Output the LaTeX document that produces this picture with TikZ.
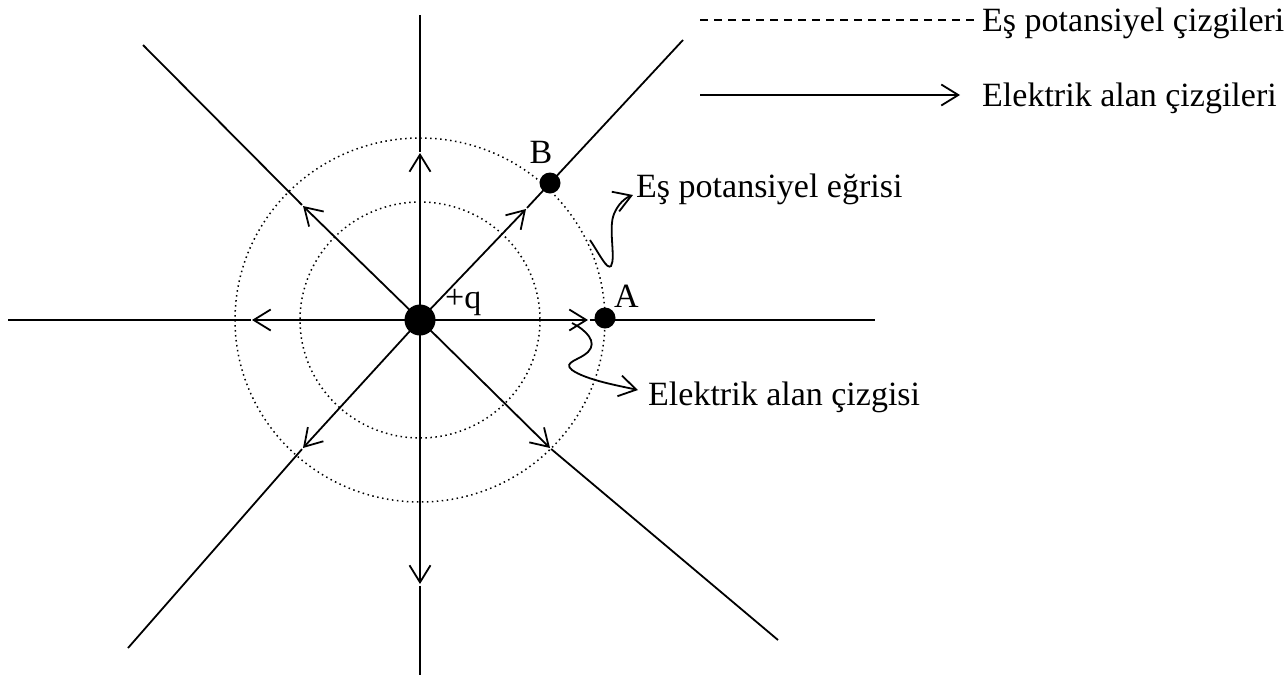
\documentclass[tikz,border=0pt]{standalone}
\usepackage{fontspec}
\setmainfont{Liberation Serif}
\usetikzlibrary{arrows.meta}
\begin{document}
\begin{tikzpicture}[x=1pt,y=-1pt,
  lbl/.style={font=\fontsize{34}{40}\selectfont, inner sep=0pt},
  farrow/.style={line width=1.8pt, -{Straight Barb[length=17pt,width=21pt,line width=1.8pt]}},
  outerseg/.style={line width=1.8pt, shorten <=1.5pt},
  eqp/.style={line width=1.5pt, dash pattern=on 1.5pt off 3.5pt},
  chargedot/.style={circle, fill=black, inner sep=0pt, minimum size=#1}]
\useasboundingbox (0,0) rectangle (1286,678);

% centre and field-line coordinates
\coordinate (c) at (420,320);
\coordinate (tU) at (420,153);  \coordinate (eU) at (420,15);
\coordinate (tD) at (420,584);  \coordinate (eD) at (420,675);
\coordinate (tL) at (252,320);  \coordinate (eL) at (8,320);
\coordinate (tR) at (588,320);  \coordinate (eR) at (875,320);
\coordinate (tNE) at (526,209); \coordinate (eNE) at (683,40);
\coordinate (tNW) at (303,206); \coordinate (eNW) at (143,45);
\coordinate (tSW) at (303,448); \coordinate (eSW) at (128,648);
\coordinate (tSE) at (550,448); \coordinate (eSE) at (778,640);

% equipotential circles
\draw[eqp] (c) ellipse [x radius=120, y radius=118];
\draw[eqp] (c) ellipse [x radius=185, y radius=182];

% field lines
\foreach \d in {U,D,L,R,NE,NW,SW,SE}{
  \draw[farrow] (c) -- (t\d);
  \draw[outerseg] (t\d) -- (e\d);
}

% charge and points
\node[chargedot=31pt] (q) at (c) {};
\node[chargedot=21pt] (B) at (550,183) {};
\node[chargedot=21pt] (A) at (605,318) {};
\node[lbl, anchor=base west] (qlbl) at (445,308) {+q};
\node[lbl, anchor=base] (Blbl) at (541,163) {B};
\node[lbl, anchor=base west] (Albl) at (614,307) {A};

% labels with wavy arrows
\node[lbl, anchor=base west] (eqlbl) at (636,197) {Eş potansiyel eğrisi};
\node[lbl, anchor=base west] (fllbl) at (648,405) {Elektrik alan çizgisi};
\coordinate (w1s) at (590,240);
\coordinate (w1e) at (633,195);
\draw[farrow] (w1s) .. controls (600,255) and (607,270) .. (611,266)
   .. controls (616,258) and (608,228) .. (614,214)
   .. controls (618,204) and (625,198) .. (w1e);
\coordinate (w2s) at (572,323);
\coordinate (w2e) at (638,390);
\draw[farrow] (w2s) .. controls (586,330) and (598,342) .. (588,352)
   .. controls (580,360) and (562,362) .. (572,370)
   .. controls (586,380) and (620,386) .. (w2e);

% legend
\coordinate (ld1) at (700,20); \coordinate (ld2) at (975,20);
\coordinate (la1) at (700,95); \coordinate (la2) at (960,95);
\draw[line width=1.5pt, dash pattern=on 8pt off 6pt] (ld1) -- (ld2);
\draw[farrow] (la1) -- (la2);
\node[lbl, anchor=base west] (leg1) at (982,31) {Eş potansiyel çizgileri};
\node[lbl, anchor=base west] (leg2) at (982,106) {Elektrik alan çizgileri};
\end{tikzpicture}
\end{document}
